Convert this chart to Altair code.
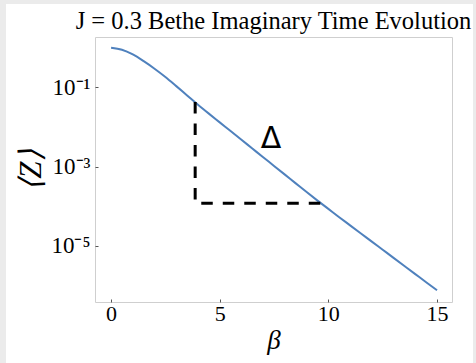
import altair as alt
import pandas as pd

# Imaginary-time evolution of <Z> on the Bethe lattice (J = 0.3)
beta = [0, 0.5, 1, 1.5, 2, 2.5, 3, 3.5, 4, 4.5, 5, 5.5, 6, 6.5, 7, 7.5,
        8, 8.5, 9, 9.5, 10, 10.5, 11, 11.5, 12, 12.5, 13, 13.5, 14, 14.5, 15]
log10_z = [0.0, -0.05, -0.17, -0.34, -0.53, -0.74, -0.97, -1.205, -1.44, -1.665,
           -1.885, -2.105, -2.325, -2.545, -2.765, -2.985, -3.205, -3.425, -3.645,
           -3.86, -4.07, -4.28, -4.485, -4.69, -4.895, -5.10, -5.305, -5.51, -5.715,
           -5.92, -6.125]

# Gap triangle (vertical drop then horizontal run)
gap_beta = [3.87, 3.87, 9.70]
gap_log10_z = [-1.37, -3.93, -3.93]

x_ticks = [0, 5, 10, 15]
y_ticks = [1e-1, 1e-3, 1e-5]
y_tick_labels = ["10⁻¹", "10⁻³", "10⁻⁵"]

curve = pd.DataFrame({"beta": beta, "z": [10 ** v for v in log10_z]})
gap = pd.DataFrame({"beta": gap_beta, "z": [10 ** v for v in gap_log10_z],
                    "i": list(range(len(gap_beta)))})
delta = pd.DataFrame({"beta": [7.36], "z": [10 ** -2.54], "t": ["Δ"]})

W, H = 357, 265
PAD = {"left": 95, "top": 37, "right": 24, "bottom": 61}
SERIF = "Liberation Serif"
EDGE = "#ebebeb"

label_expr = (f"datum.value > 0.01 ? '{y_tick_labels[0]}' : "
              f"datum.value > 0.0001 ? '{y_tick_labels[1]}' : '{y_tick_labels[2]}'")

x_enc = alt.X("beta:Q", title="β",
              scale=alt.Scale(domain=[-0.74, 15.69], nice=False, zero=False),
              axis=alt.Axis(values=x_ticks, format="d", titleFontStyle="italic",
                            titleFontSize=27, titlePadding=3, labelPadding=1))
y_enc = alt.Y("z:Q", title="⟨Z⟩",
              scale=alt.Scale(type="log", domain=[10 ** -6.42, 10 ** 0.27], nice=False),
              axis=alt.Axis(values=y_ticks, labelExpr=label_expr, titleFontStyle="italic",
                            titleFontSize=31, titlePadding=3, labelPadding=5,
                            labelFontSize=23))

line = alt.Chart(curve).mark_line(color="#4f81bd", strokeWidth=2,
                                  interpolate="monotone").encode(x=x_enc, y=y_enc)

gap_line = alt.Chart(gap).mark_line(color="black", strokeWidth=3,
                                    strokeDash=[11.5, 10]).encode(
    x="beta:Q", y="z:Q", order="i:Q")

delta_text = alt.Chart(delta).mark_text(font="DejaVu Sans", fontSize=30,
                                        baseline="alphabetic", align="center",
                                        color="black").encode(
    x="beta:Q", y="z:Q", text="t:N")

one = pd.DataFrame({"k": [0]})


def edge_strip(x0, x1, y0, y1):
    return alt.Chart(one).mark_rect(color=EDGE).encode(
        x=alt.value(x0), x2=alt.value(x1), y=alt.value(y0), y2=alt.value(y1))


# light grey frame around the figure (left, top, right edges)
edges = (
    edge_strip(-PAD["left"], -PAD["left"] + 6, -PAD["top"], H + PAD["bottom"])
    + edge_strip(-PAD["left"], W + PAD["right"], -PAD["top"], -PAD["top"] + 4)
    + edge_strip(W + PAD["right"] - 3, W + PAD["right"], -PAD["top"], H + PAD["bottom"])
)

chart = alt.layer(line, gap_line, delta_text, edges).properties(
    width=W, height=H,
    autosize=alt.AutoSizeParams(type="none"),
    padding=PAD,
    background="white",
    title=alt.Title("J = 0.3 Bethe Imaginary Time Evolution", font=SERIF,
                    fontSize=24.5, fontWeight="normal", color="black",
                    anchor="middle", frame="group", offset=6, dy=40),
).configure_title(
    font=SERIF, fontWeight="normal"
).configure_view(
    stroke="#cfcfcf", strokeWidth=1
).configure_axis(
    domain=False, grid=False, ticks=True, tickSize=3, tickColor="#555555",
    tickWidth=1, offset=-3, labelFont=SERIF, labelFontSize=22, labelColor="black",
    titleFont=SERIF, titleColor="black", titleFontWeight="normal"
)

chart.save("out.html", embed_options={"renderer": "svg", "actions": False})
